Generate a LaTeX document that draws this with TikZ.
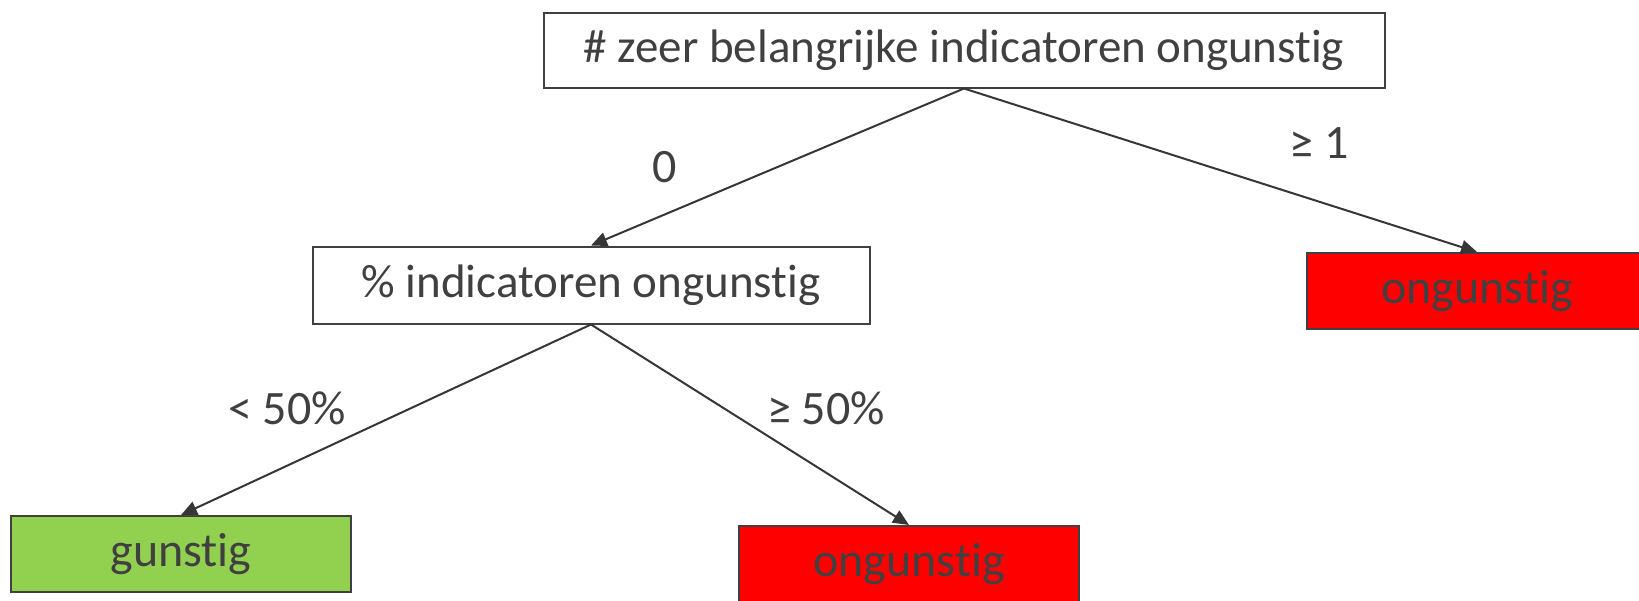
\documentclass[tikz,border=0pt]{standalone}
\usepackage{fontspec}
\setmainfont{Carlito}[Ligatures=NoCommon]
\usetikzlibrary{arrows.meta}
\definecolor{txtgrey}{HTML}{404040}
\definecolor{linegrey}{HTML}{363636}
\definecolor{badred}{HTML}{FF0000}
\definecolor{goodgreen}{HTML}{92D050}
\tikzstyle{question} = [rectangle,draw=txtgrey,line width=1pt,text=txtgrey,inner sep=0pt,font=\fontsize{23.5}{28}\selectfont]
\tikzstyle{verdict} = [rectangle,draw=txtgrey,line width=1pt,text=txtgrey,inner sep=0pt,minimum width=170pt,minimum height=38pt,font=\fontsize{24}{28}\selectfont]

\begin{document}
\begin{tikzpicture}
		[
		x=0.5pt,y=-0.5pt,
		branch/.style={
		draw=linegrey,
		line width=1pt,
		-{Triangle[length=8pt,width=7pt]}},
		cond/.style={
		text=txtgrey,
		font=\fontsize{24}{28}\selectfont}
		]
		\useasboundingbox (0,0) rectangle (1639,600);
		\clip (0,0) rectangle (1639,600);
		\node[question,minimum width=420.5pt,minimum height=37.5pt] (count) at (964,50) {\# zeer belangrijke indicatoren ongunstig};
		\node[question,minimum width=278.5pt,minimum height=38.5pt] (share) at (591,285) {\% indicatoren ongunstig};
		\node[verdict,fill=badred] (bad_top) at (1477,291) {ongunstig};
		\node[verdict,fill=goodgreen] (good) at (181,554) {gunstig};
		\node[verdict,fill=badred] (bad_low) at (909,564) {ongunstig};
		\draw[branch] (count.south) -- (share.north);
		\draw[branch] (count.south) -- (bad_top.north);
		\draw[branch] (share.south) -- (good.north);
		\draw[branch] (share.south) -- (bad_low.north);
		\node[cond] (zero) at (665,167) {0};
		\node[cond] (one_plus) at (1319,143) {≥ 1};
		\node[cond] (below_half) at (287,408) {< 50\%};
		\node[cond] (above_half) at (826,408) {≥ 50\%};
		\end{tikzpicture}
\end{document}
